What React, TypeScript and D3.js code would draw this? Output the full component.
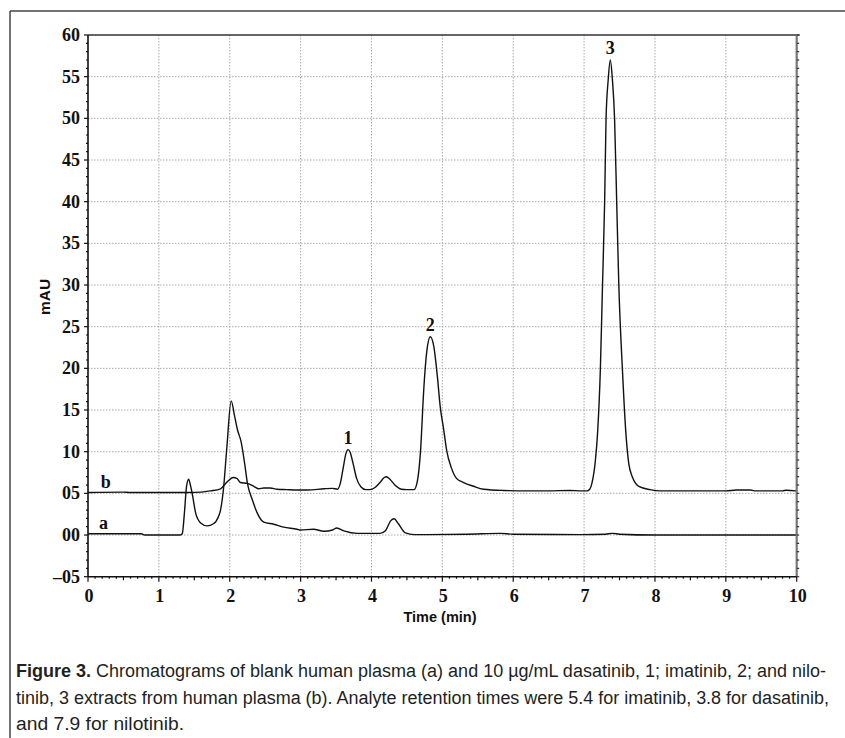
import * as d3 from "d3";

// chromatogram b: 10 µg/mL extract (time min, mAU)
const traceB: [number, number][] = [
  [0, 5.1], [0.5, 5.15], [0.6, 5.1], [1.0, 5.1], [1.4, 5.1], [1.6, 5.15], [1.73, 5.3], [1.87, 5.55],
  [1.96, 6.35], [2.05, 6.9], [2.1, 6.8], [2.15, 6.3], [2.25, 6.2], [2.34, 5.85], [2.41, 5.55], [2.48, 5.65],
  [2.57, 5.65], [2.67, 5.5], [2.8, 5.45], [2.95, 5.4], [3.1, 5.4], [3.33, 5.55], [3.45, 5.6], [3.52, 5.5],
  [3.56, 6.2], [3.6, 8.0], [3.64, 9.8], [3.67, 10.25], [3.7, 9.9], [3.74, 8.6], [3.79, 6.8], [3.85, 5.8],
  [3.92, 5.45], [3.98, 5.45], [4.05, 5.7], [4.12, 6.3], [4.18, 6.9], [4.21, 7.0], [4.26, 6.7], [4.33, 6.0],
  [4.42, 5.5], [4.5, 5.45], [4.6, 5.45], [4.65, 6.6], [4.69, 9.8], [4.74, 17.8], [4.78, 22.0], [4.83, 23.8],
  [4.88, 22.6], [4.93, 19.0], [4.97, 15.4], [5.02, 12.6], [5.06, 10.2], [5.13, 8.0], [5.2, 6.8], [5.3, 6.3],
  [5.44, 5.85], [5.58, 5.5], [5.86, 5.35], [6.2, 5.3], [6.5, 5.3], [6.8, 5.35], [6.95, 5.3], [7.04, 5.3],
  [7.08, 5.5], [7.11, 6.2], [7.16, 9.0], [7.19, 12.2], [7.23, 20], [7.26, 30], [7.29, 40], [7.31, 50],
  [7.34, 54.6], [7.37, 57.0], [7.4, 54.6], [7.43, 50], [7.46, 40], [7.49, 30], [7.54, 20], [7.59, 12.2],
  [7.63, 8.6], [7.68, 7.0], [7.78, 5.8], [7.93, 5.45], [8.07, 5.3], [8.5, 5.3], [9.0, 5.3], [9.15, 5.4],
  [9.35, 5.4], [9.4, 5.3], [9.8, 5.3], [9.85, 5.38], [10, 5.3],
];

// chromatogram a: blank plasma
const traceA: [number, number][] = [
  [0, 0.15], [0.5, 0.15], [0.75, 0.15], [0.8, 0.0], [1.0, 0.0], [1.3, 0.0], [1.33, 0.15], [1.36, 2.6],
  [1.39, 5.8], [1.42, 6.7], [1.45, 5.8], [1.47, 5.0], [1.52, 2.6], [1.59, 1.45], [1.68, 1.1], [1.77, 1.35],
  [1.84, 2.2], [1.87, 3.0], [1.91, 5.4], [1.96, 10.6], [2.02, 16.1], [2.07, 14.2], [2.11, 12.6], [2.16, 11.2],
  [2.21, 8.6], [2.25, 6.2], [2.32, 4.2], [2.39, 2.6], [2.48, 1.55], [2.62, 1.3], [2.76, 0.95], [2.95, 0.7],
  [3.0, 0.6], [3.18, 0.7], [3.33, 0.45], [3.45, 0.6], [3.51, 0.85], [3.61, 0.5], [3.8, 0.2], [4.12, 0.2],
  [4.2, 0.55], [4.27, 1.7], [4.32, 1.95], [4.38, 1.35], [4.48, 0.25], [4.6, 0.05], [5.35, 0.1], [5.82, 0.2],
  [6.0, 0.1], [6.95, 0.05], [7.3, 0.1], [7.4, 0.2], [7.5, 0.1], [8.0, 0.0], [10, 0.0],
];

const yTicks = [60, 55, 50, 45, 40, 35, 30, 25, 20, 15, 10, 5, 0, -5];
const yTickLabels = ["60", "55", "50", "45", "40", "35", "30", "25", "20", "15", "10", "05", "00", "\u201305"];
const xTicks = [0, 1, 2, 3, 4, 5, 6, 7, 8, 9, 10];

// peak labels [time, mAU, text]
const peakLabels: [number, number, string][] = [
  [3.67, 10.25, "1"],
  [4.83, 23.8, "2"],
  [7.37, 57.0, "3"],
];
const traceLabels: [number, number, string][] = [
  [0.25, 5.1, "b"],
  [0.22, 0.15, "a"],
];

const captionLines = [
  "Chromatograms of blank human plasma (a) and 10 \u00b5g/mL dasatinib, 1; imatinib, 2; and nilo-",
  "tinib, 3 extracts from human plasma (b). Analyte retention times were 5.4 for imatinib, 3.8 for dasatinib,",
  "and 7.9 for nilotinib.",
];

const W = 845, H = 738;
const m = { left: 88, right: 796.7, top: 35, bottom: 576.7 };

export default function App() {
  const x = d3.scaleLinear().domain([0, 10]).range([m.left, m.right]);
  const y = d3.scaleLinear().domain([-5, 60]).range([m.bottom, m.top]);
  const line = d3
    .line<[number, number]>()
    .x((d) => x(d[0]))
    .y((d) => y(d[1]))
    .curve(d3.curveMonotoneX);

  const serif = "'Liberation Serif', 'DejaVu Serif', serif";
  const sans = "'Liberation Sans', 'DejaVu Sans', sans-serif";
  const narrow = "'Liberation Sans Narrow', 'Liberation Sans', sans-serif";

  const minorX = d3.range(0, 101).map((i) => i / 10);
  const minorY = d3.range(-5, 61);

  return (
    <svg width={W} height={H} style={{ position: "absolute", left: 0, top: 0, background: "#fff" }}>
      {/* outer frame */}
      <line x1={10} x2={W} y1={11} y2={11} stroke="#444" strokeWidth={1.5} />
      <line x1={10} x2={10} y1={11} y2={H} stroke="#444" strokeWidth={1.5} />

      {/* grid */}
      {xTicks.slice(1, -1).map((t) => (
        <line key={"gx" + t} x1={x(t)} x2={x(t)} y1={m.top} y2={m.bottom} stroke="#aaa" strokeDasharray="1.5,1.5" />
      ))}
      {yTicks.slice(1, -1).map((t) => (
        <line key={"gy" + t} x1={m.left} x2={m.right} y1={y(t)} y2={y(t)} stroke="#aaa" strokeDasharray="1.5,1.5" />
      ))}

      {/* traces */}
      <path d={line(traceB) || ""} fill="none" stroke="#111" strokeWidth={1.4} />
      <path d={line(traceA) || ""} fill="none" stroke="#111" strokeWidth={1.4} />

      {/* axes frame */}
      <line x1={m.left} x2={m.right + 3} y1={m.top} y2={m.top} stroke="#333" strokeWidth={1.5} />
      <line x1={m.right} x2={m.right} y1={m.top} y2={m.bottom} stroke="#777" strokeWidth={2.2} />
      <line x1={m.left} x2={m.left} y1={m.top} y2={m.bottom} stroke="#111" strokeWidth={1.6} />
      <line x1={m.left} x2={m.right} y1={m.bottom} y2={m.bottom} stroke="#111" strokeWidth={1.6} />

      {/* y ticks */}
      {minorY.map((v) => (
        <line key={"ty" + v} x1={m.left - (v % 5 === 0 ? 4 : 2)} x2={m.left} y1={y(v)} y2={y(v)} stroke="#111" strokeWidth={1.2} />
      ))}
      {minorY.map((v) => (
        <line key={"tr" + v} x1={m.right} x2={m.right + 2.5} y1={y(v)} y2={y(v)} stroke="#333" strokeWidth={1.2} />
      ))}
      {/* x ticks */}
      {minorX.map((t, i) => (
        <line
          key={"tx" + i}
          x1={x(t)}
          x2={x(t)}
          y1={m.bottom}
          y2={m.bottom + (i % 10 === 0 ? 5 : i % 5 === 0 ? 3.5 : 2)}
          stroke="#111"
          strokeWidth={1.2}
        />
      ))}

      {/* tick labels */}
      {yTicks.map((v, i) => (
        <text key={"ly" + v} x={80} y={y(v) + 6} textAnchor="end" fontFamily={serif} fontWeight="bold" fontSize={18} fill="#111">
          {yTickLabels[i]}
        </text>
      ))}
      {xTicks.map((t) => (
        <text key={"lx" + t} x={x(t) + 1} y={602} textAnchor="middle" fontFamily={serif} fontWeight="bold" fontSize={18} fill="#111">
          {t}
        </text>
      ))}

      {/* axis titles */}
      <text x={440} y={622} textAnchor="middle" fontFamily={sans} fontWeight="bold" fontSize={14.5} fill="#111">
        Time (min)
      </text>
      <text
        transform={`translate(50,297) rotate(-90)`}
        textAnchor="middle"
        fontFamily={sans}
        fontWeight="bold"
        fontSize={15.5}
        fill="#111"
      >
        mAU
      </text>

      {/* peak and trace labels */}
      {peakLabels.map(([t, v, s]) => (
        <text key={"pk" + s} x={x(t)} y={y(v) - 6} textAnchor="middle" fontFamily={serif} fontWeight="bold" fontSize={18} fill="#111">
          {s}
        </text>
      ))}
      {traceLabels.map(([t, v, s]) => (
        <text key={"tl" + s} x={x(t)} y={y(v) - 5} textAnchor="middle" fontFamily={serif} fontWeight="bold" fontSize={18} fill="#111">
          {s}
        </text>
      ))}

      {/* caption */}
      <text x={16} y={677} fontFamily={narrow} fontSize={18} fill="#231f20" textLength={810} lengthAdjust="spacingAndGlyphs">
        <tspan fontWeight="bold">Figure 3.</tspan> {captionLines[0]}
      </text>
      <text x={16} y={704} fontFamily={narrow} fontSize={18} fill="#231f20" textLength={813} lengthAdjust="spacingAndGlyphs">
        {captionLines[1]}
      </text>
      <text x={16} y={730} fontFamily={narrow} fontSize={18} fill="#231f20" textLength={168} lengthAdjust="spacingAndGlyphs">
        {captionLines[2]}
      </text>
    </svg>
  );
}
